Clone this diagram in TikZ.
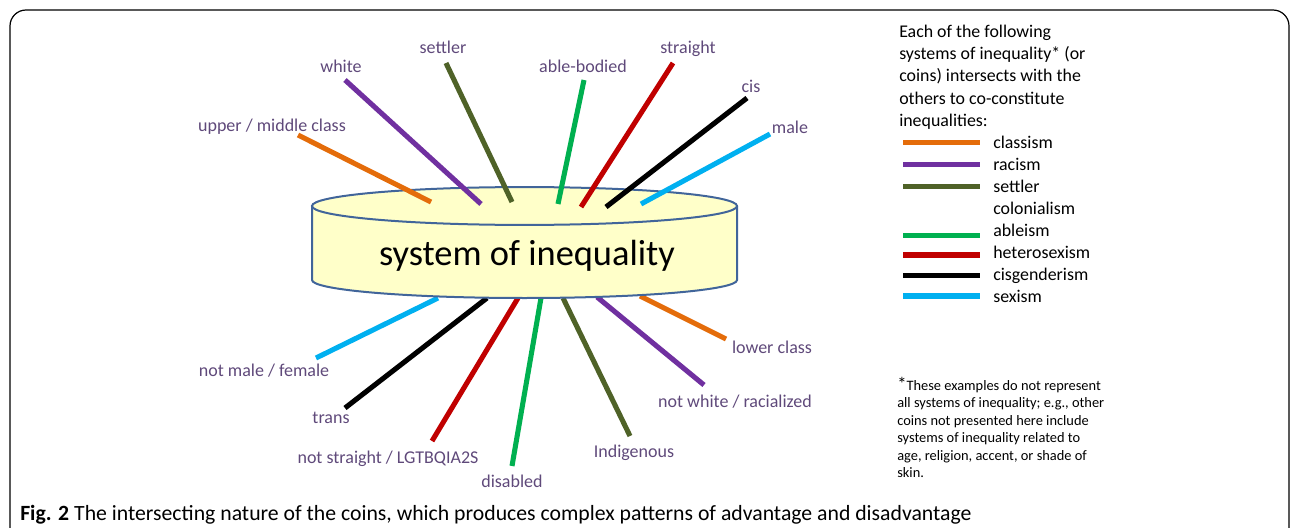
\documentclass[tikz,border=0pt]{standalone}
\usepackage{fontspec}
\setmainfont{Carlito}
\definecolor{cOrange}{HTML}{E46C0A}
\definecolor{cPurple}{HTML}{7030A0}
\definecolor{cOlive}{HTML}{4F6228}
\definecolor{cGreen}{HTML}{00B050}
\definecolor{cRed}{HTML}{C00000}
\definecolor{cCyan}{HTML}{00B0F0}
\definecolor{cLabel}{HTML}{5F497A}
\definecolor{coinFill}{HTML}{FFFFC9}
\definecolor{coinEdge}{HTML}{41659A}
\begin{document}
\begin{tikzpicture}[x=0.75pt,y=-0.75pt,
  lbl/.style={text=cLabel, font=\fontsize{13.5}{16}\selectfont, inner sep=0pt},
  bar/.style={line width=3.8pt},
  lgdbar/.style={line width=3.8pt},
  lgd/.style={font=\fontsize{13.4}{16.5}\selectfont, inner sep=0pt, anchor=base west},
  coinedge/.style={draw=coinEdge, line width=1.5pt},
]
\useasboundingbox (0,0) rectangle (1292,528);
\begin{scope}
  \clip (0,0) rectangle (1292,528);
  \draw[line width=0.9pt, rounded corners=12pt] (10,10) rectangle (1289,560);
\end{scope}

% ---- bottom bars (behind the coin)
\coordinate (b1s) at (438,298); \coordinate (b1e) at (316,358);
\coordinate (b2s) at (487,298); \coordinate (b2e) at (345,408);
\coordinate (b3s) at (518,298); \coordinate (b3e) at (432,441);
\coordinate (b4s) at (541,298); \coordinate (b4e) at (512,466);
\coordinate (b5s) at (563,298); \coordinate (b5e) at (630,436);
\coordinate (b6s) at (597,297); \coordinate (b6e) at (704,385);
\coordinate (b7s) at (640,296); \coordinate (b7e) at (726,339);
\draw[bar, cCyan]   (b1s) -- (b1e);
\draw[bar, black]   (b2s) -- (b2e);
\draw[bar, cRed]    (b3s) -- (b3e);
\draw[bar, cGreen]  (b4s) -- (b4e);
\draw[bar, cOlive]  (b5s) -- (b5e);
\draw[bar, cPurple] (b6s) -- (b6e);
\draw[bar, cOrange] (b7s) -- (b7e);

% ---- coin
\path[fill=coinFill] (312,206) -- (312,280) arc[start angle=180, end angle=360, x radius=159.4pt, y radius=13.5pt] -- (737,206) -- cycle;
\draw[coinedge] (312,206) -- (312,280) arc[start angle=180, end angle=360, x radius=159.4pt, y radius=13.5pt] -- (737,206);
\draw[coinedge, fill=coinFill] (524.5,206) ellipse [x radius=159.4pt, y radius=14.2pt];
\node[inner sep=0pt, font=\fontsize{27.3}{30}\selectfont] (coin) at (527,256) {system of inequality};

% ---- top bars
\coordinate (t1s) at (431,202); \coordinate (t1e) at (298,135);
\coordinate (t2s) at (481,204); \coordinate (t2e) at (345,80);
\coordinate (t3s) at (512,202); \coordinate (t3e) at (446,63);
\coordinate (t4s) at (558,204); \coordinate (t4e) at (584,80);
\coordinate (t5s) at (581,207); \coordinate (t5e) at (673,63);
\coordinate (t6s) at (606,207); \coordinate (t6e) at (747,98);
\coordinate (t7s) at (641,204); \coordinate (t7e) at (770,134);
\draw[bar, cOrange] (t1s) -- (t1e);
\draw[bar, cPurple] (t2s) -- (t2e);
\draw[bar, cOlive]  (t3s) -- (t3e);
\draw[bar, cGreen]  (t4s) -- (t4e);
\draw[bar, cRed]    (t5s) -- (t5e);
\draw[bar, black]   (t6s) -- (t6e);
\draw[bar, cCyan]   (t7s) -- (t7e);

% ---- labels
\node[lbl] (lupper) at (272,127) {upper / middle class};
\node[lbl] (lwhite) at (341,66) {white};
\node[lbl] (lsettler) at (443,47) {settler};
\node[lbl] (lable) at (583,66) {able-bodied};
\node[lbl] (lstraight) at (688,49) {straight};
\node[lbl] (lcis) at (751,86) {cis};
\node[lbl] (lmale) at (790,127) {male};
\node[lbl] (lfemale) at (264,371) {not male / female};
\node[lbl] (ltrans) at (331,418) {trans};
\node[lbl] (lnotstraight) at (388,459) {not straight / LGTBQIA2S};
\node[lbl] (ldisabled) at (512,481) {disabled};
\node[lbl] (lindig) at (634,453) {Indigenous};
\node[lbl] (lracial) at (735,402) {not white / racialized};
\node[lbl] (llower) at (772,347) {lower class};

% ---- legend
\node[lgd] (intro) at (899,38) {Each of the following};
\node[lgd] (intro2) at (899,60) {systems of inequality* (or};
\node[lgd] (intro3) at (899,82) {coins) intersects with the};
\node[lgd] (intro4) at (899,104) {others to co-constitute};
\node[lgd] (intro5) at (899,126) {inequalities:};
\node[lgd] (kclass) at (993,148) {classism};
\node[lgd] (krace) at (993,170) {racism};
\node[lgd] (ksettler) at (993,192) {settler};
\node[lgd] (ksettler2) at (993,214) {colonialism};
\node[lgd] (kable) at (993,236) {ableism};
\node[lgd] (khetero) at (993,258) {heterosexism};
\node[lgd] (kcis) at (993,280) {cisgenderism};
\node[lgd] (ksex) at (993,302) {sexism};
\coordinate (k1a) at (903,142.5); \coordinate (k1b) at (980,142.5);
\coordinate (k2a) at (903,164.5); \coordinate (k2b) at (980,164.5);
\coordinate (k3a) at (903,186.5); \coordinate (k3b) at (980,186.5);
\coordinate (k4a) at (903,235.5); \coordinate (k4b) at (980,235.5);
\coordinate (k5a) at (903,255);   \coordinate (k5b) at (980,255);
\coordinate (k6a) at (903,275.5); \coordinate (k6b) at (980,275.5);
\coordinate (k7a) at (903,296);   \coordinate (k7b) at (980,296);
\draw[lgdbar, cOrange] (k1a) -- (k1b);
\draw[lgdbar, cPurple] (k2a) -- (k2b);
\draw[lgdbar, cOlive]  (k3a) -- (k3b);
\draw[lgdbar, cGreen]  (k4a) -- (k4b);
\draw[lgdbar, cRed]    (k5a) -- (k5b);
\draw[lgdbar, black]   (k6a) -- (k6b);
\draw[lgdbar, cCyan]   (k7a) -- (k7b);

% ---- footnote
\node[inner sep=0pt, anchor=north west, align=left, font=\fontsize{10.8}{13.1}\selectfont] (note) at (897,377)
  {{\fontsize{14}{13}\selectfont *}These examples do not represent\\
   all systems of inequality; e.g., other\\
   coins not presented here include\\
   systems of inequality related to\\
   age, religion, accent, or shade of\\
   skin.};

% ---- caption
\node[inner sep=0pt, anchor=base west, font=\fontsize{16.3}{18}\selectfont] (caption) at (20,520)
  {\textbf{Fig. 2} The intersecting nature of the coins, which produces complex patterns of advantage and disadvantage};
\end{tikzpicture}
\end{document}
